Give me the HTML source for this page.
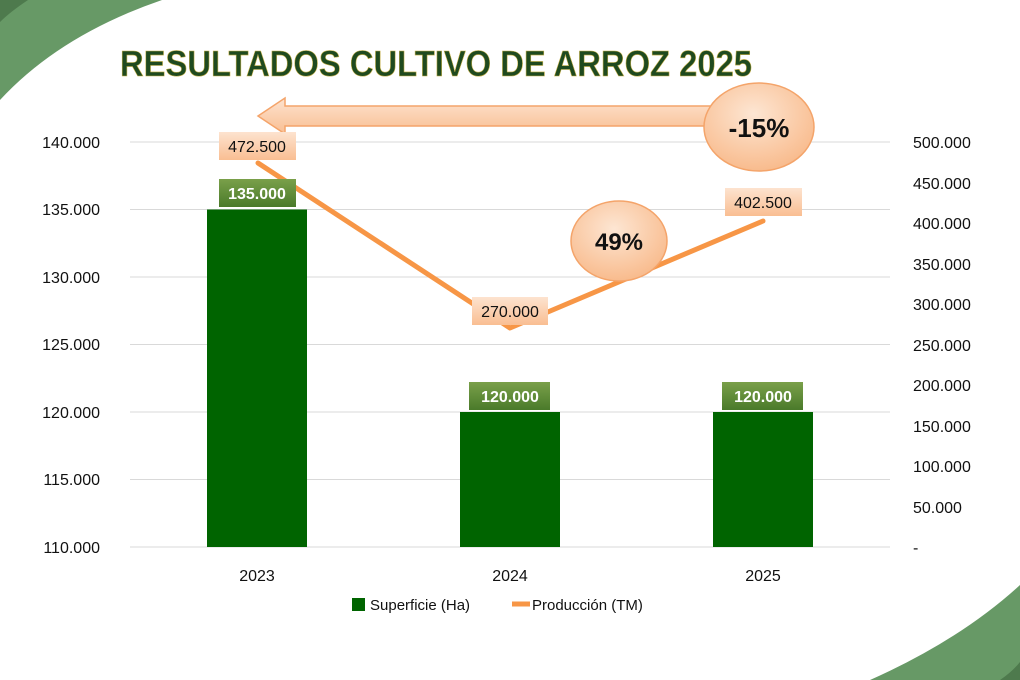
<!DOCTYPE html>
<html><head><meta charset="utf-8"><style>
body{margin:0;background:#fff}
svg{display:block;font-family:"Liberation Sans",sans-serif}
</style></head><body>
<svg width="1020" height="680" viewBox="0 0 1020 680">
<defs>
<linearGradient id="og" x1="0" y1="0" x2="0" y2="1"><stop offset="0" stop-color="#fde3cf"/><stop offset="1" stop-color="#f9be92"/></linearGradient>
<radialGradient id="eg" cx="0.45" cy="0.35" r="0.7"><stop offset="0" stop-color="#fde6d3"/><stop offset="1" stop-color="#f8b888"/></radialGradient>
<linearGradient id="gg" x1="0" y1="0" x2="0" y2="1"><stop offset="0" stop-color="#7aa04a"/><stop offset="1" stop-color="#4a7a2a"/></linearGradient>
</defs>
<path d="M0 0 H162 Q60 35 0 100 Z" fill="#679966"/>
<path d="M0 0 H28 Q10 12 0 22 Z" fill="#4e7a4d"/>
<path d="M870 680 Q960 640 1020 585 V680 Z" fill="#679966"/>
<path d="M1000 680 Q1012 672 1020 662 V680 Z" fill="#4e7a4d"/>
<text x="120" y="76" font-size="36" font-weight="bold" fill="#1f4a1f" stroke="#c9b24a" stroke-width="0.6" textLength="632" lengthAdjust="spacingAndGlyphs">RESULTADOS CULTIVO DE ARROZ 2025</text>
<g stroke="#d9d9d9" stroke-width="1">
<line x1="130" x2="890" y1="142" y2="142"/><line x1="130" x2="890" y1="209.5" y2="209.5"/><line x1="130" x2="890" y1="277" y2="277"/><line x1="130" x2="890" y1="344.5" y2="344.5"/><line x1="130" x2="890" y1="412" y2="412"/><line x1="130" x2="890" y1="479.5" y2="479.5"/><line x1="130" x2="890" y1="547" y2="547"/>
</g>
<g font-size="16" fill="#111" text-anchor="end">
<text x="100" y="148">140.000</text><text x="100" y="215">135.000</text><text x="100" y="283">130.000</text><text x="100" y="350">125.000</text><text x="100" y="418">120.000</text><text x="100" y="485">115.000</text><text x="100" y="553">110.000</text>
</g>
<g font-size="16" fill="#111">
<text x="913" y="148">500.000</text><text x="913" y="189">450.000</text><text x="913" y="229">400.000</text><text x="913" y="270">350.000</text><text x="913" y="310">300.000</text><text x="913" y="351">250.000</text><text x="913" y="391">200.000</text><text x="913" y="432">150.000</text><text x="913" y="472">100.000</text><text x="913" y="513">50.000</text><text x="913" y="553">-</text>
</g>
<rect x="207" y="209.5" width="100" height="337.5" fill="#006400"/>
<rect x="460" y="412" width="100" height="135" fill="#006400"/>
<rect x="713" y="412" width="100" height="135" fill="#006400"/>
<g font-size="16" fill="#111" text-anchor="middle"><text x="257" y="581">2023</text><text x="510" y="581">2024</text><text x="763" y="581">2025</text></g>
<polyline points="258,163 510,328 763,221" fill="none" stroke="#f79646" stroke-width="5" stroke-linecap="round" stroke-linejoin="round"/>
<path d="M258 116 L285 98 V106 H790 V126 H285 V134 Z" fill="url(#og)" stroke="#f4a46a" stroke-width="1.5"/>
<ellipse cx="759" cy="127" rx="55" ry="44" fill="url(#eg)" stroke="#f4a46a" stroke-width="1.5"/>
<text x="759" y="137" font-size="26" font-weight="bold" text-anchor="middle" fill="#111">-15%</text>
<ellipse cx="619" cy="241" rx="48" ry="40" fill="url(#eg)" stroke="#f4a46a" stroke-width="1.5"/>
<text x="619" y="250" font-size="24" font-weight="bold" text-anchor="middle" fill="#111">49%</text>
<g font-size="16" text-anchor="middle">
<rect x="219" y="132" width="77" height="28" fill="url(#og)"/><text x="257" y="152" fill="#111">472.500</text>
<rect x="472" y="297" width="76" height="28" fill="url(#og)"/><text x="510" y="317" fill="#111">270.000</text>
<rect x="725" y="188" width="77" height="28" fill="url(#og)"/><text x="763" y="208" fill="#111">402.500</text>
<rect x="219" y="179" width="77" height="28" fill="url(#gg)"/><text x="257" y="199" fill="#fff" font-weight="bold">135.000</text>
<rect x="469" y="382" width="81" height="28" fill="url(#gg)"/><text x="510" y="402" fill="#fff" font-weight="bold">120.000</text>
<rect x="722" y="382" width="81" height="28" fill="url(#gg)"/><text x="763" y="402" fill="#fff" font-weight="bold">120.000</text>
</g>
<rect x="352" y="598" width="13" height="13" fill="#006400"/>
<text x="370" y="610" font-size="15" fill="#111">Superficie (Ha)</text>
<line x1="512" x2="530" y1="604" y2="604" stroke="#f79646" stroke-width="5"/>
<text x="532" y="610" font-size="15" fill="#111">Producción (TM)</text>
</svg>
</body></html>
